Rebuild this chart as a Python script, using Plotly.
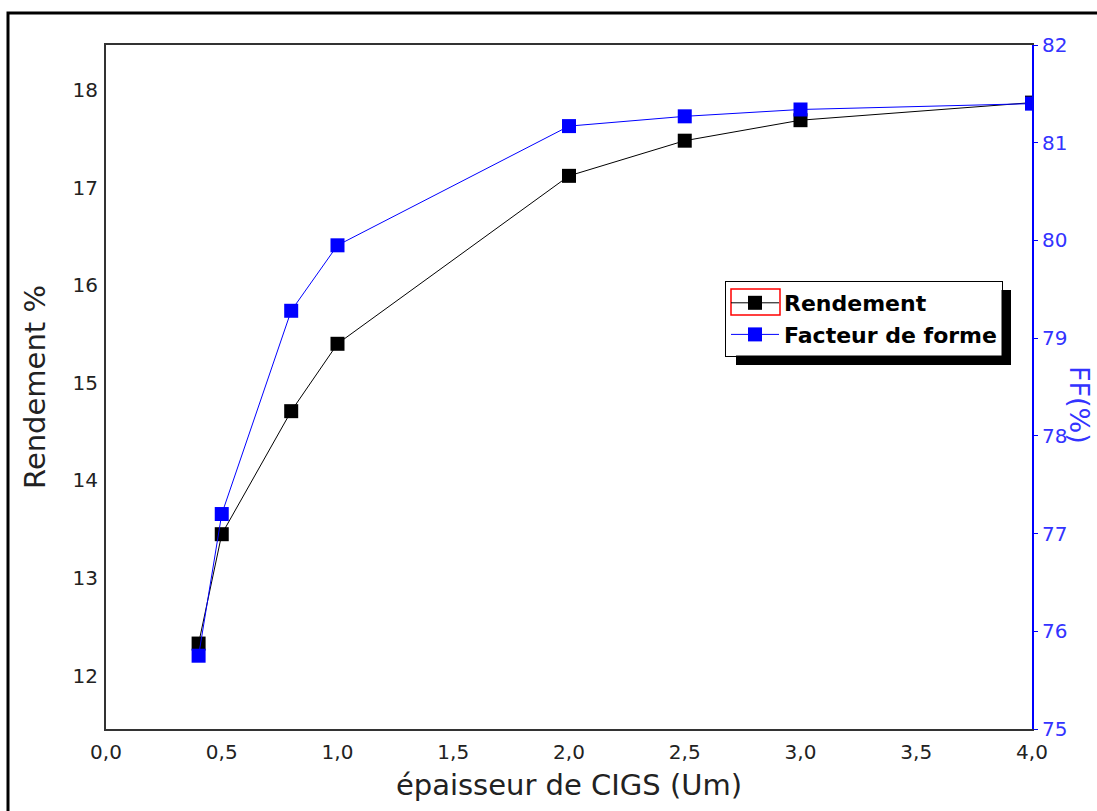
import plotly.graph_objects as go

# ---- data ----
thickness = [0.4, 0.5, 0.8, 1.0, 2.0, 2.5, 3.0, 4.0]
rendement = [12.33, 13.45, 14.71, 15.40, 17.12, 17.48, 17.69, 17.87]
facteur_forme = [75.75, 77.20, 79.28, 79.95, 81.17, 81.27, 81.34, 81.40]

W, H = 1097, 811
L, R, T, B = 106, 65, 45, 82
PW, PH = W - L - R, H - T - B

def px(x):
    return (x - L) / PW

def py(y):
    return (H - B - y) / PH

fig = go.Figure()
fig.add_trace(go.Scatter(
    x=thickness, y=rendement, name="Rendement", mode="lines+markers",
    line=dict(color="black", width=1),
    marker=dict(symbol="square", size=14, color="black"),
))
fig.add_trace(go.Scatter(
    x=thickness, y=facteur_forme, name="Facteur de forme", mode="lines+markers",
    yaxis="y2",
    line=dict(color="#0000ff", width=1),
    marker=dict(symbol="square", size=14, color="#0000ff"),
))

tickfont = dict(family="DejaVu Sans", size=20, color="#222222")
titlefont = dict(family="DejaVu Sans", size=29, color="#222222")

fig.update_layout(
    width=W, height=H,
    margin=dict(l=L, r=R, t=T, b=B),
    paper_bgcolor="white", plot_bgcolor="white",
    separators=", ",
    showlegend=True,
    legend=dict(
        x=px(725), y=py(281), xanchor="left", yanchor="top",
        bgcolor="rgba(0,0,0,0)", bordercolor="black", borderwidth=1,
        font=dict(family="DejaVu Sans", size=22, color="black", weight="bold"),
        tracegroupgap=0, itemwidth=48,
    ),
    xaxis=dict(
        range=[0, 4], dtick=0.5, tick0=0, tickformat=".1f",
        showgrid=False, zeroline=False,
        showline=True, linecolor="#333333", linewidth=2, mirror=True,
        ticks="", tickfont=tickfont, ticklabelstandoff=4,
        title=dict(text="épaisseur de CIGS (Um)", font=titlefont, standoff=12),
    ),
    yaxis=dict(
        range=[11.455, 18.46], dtick=1, tick0=12,
        showgrid=False, zeroline=False,
        showline=True, linecolor="#333333", linewidth=2,
        ticks="", tickfont=tickfont, ticklabelstandoff=2,
        title=dict(text="Rendement %", font=titlefont, standoff=18),
    ),
    yaxis2=dict(
        range=[75, 82], dtick=1, tick0=75, overlaying="y", side="right",
        showgrid=False, zeroline=False,
        showline=True, linecolor="#0000ff", linewidth=2,
        ticks="outside", ticklen=4, tickcolor="#0000ff", tickwidth=1,
        tickfont=dict(family="DejaVu Sans", size=20, color="#3333ff"),
    ),
    shapes=[
        # outer frame
        dict(type="rect", xref="paper", yref="paper",
             x0=px(8), y0=py(830), x1=px(1115), y1=py(13),
             line=dict(color="black", width=3), fillcolor="rgba(0,0,0,0)", layer="below"),
        # legend shadow
        dict(type="rect", xref="paper", yref="paper",
             x0=px(736), y0=py(365), x1=px(1011), y1=py(290),
             line=dict(width=0), fillcolor="black", layer="above"),
        # legend background
        dict(type="rect", xref="paper", yref="paper",
             x0=px(725.5), y0=py(355.5), x1=px(1001.5), y1=py(281.5),
             line=dict(width=0), fillcolor="white", layer="above"),
        # red highlight around the first legend symbol
        dict(type="rect", xref="paper", yref="paper",
             x0=px(731), y0=py(315), x1=px(780), y1=py(289),
             line=dict(color="red", width=1.5), fillcolor="rgba(0,0,0,0)", layer="above"),
    ],
    annotations=[
        dict(text="FF(%)", xref="paper", yref="paper", x=px(1080), y=py(405),
             xanchor="center", yanchor="middle", textangle=90, showarrow=False,
             font=dict(family="DejaVu Sans", size=27, color="#3333ff")),
    ],
)

fig.write_html("out.html")
